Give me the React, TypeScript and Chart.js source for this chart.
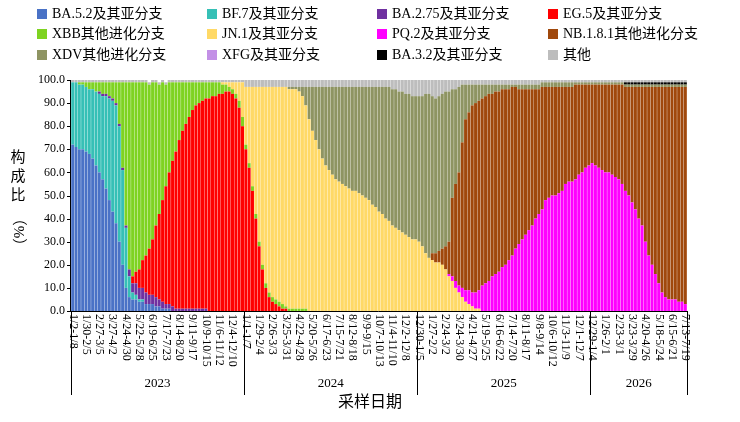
import React, { useEffect, useRef } from "react";
import { Chart, registerables } from "chart.js";
Chart.register(...registerables);

const N = 185;
const TICK_LABELS = [
  "1/2-1/8","1/30-2/5","2/27-3/5","3/27-4/2","4/24-4/30","5/22-5/28","6/19-6/25","7/17-7/23","8/14-8/20","9/11-9/17","10/9-10/15","11/6-11/12","12/4-12/10",
  "1/1-1/7","1/29-2/4","2/26-3/3","3/25-3/31","4/22-4/28","5/20-5/26","6/17-6/23","7/15-7/21","8/12-8/18","9/9-9/15","10/7-10/13","11/4-11/10","12/2-12/8",
  "12/30-1/5","1/27-2/2","2/24-3/2","3/24-3/30","4/21-4/27","5/19-5/25","6/16-6/22","7/14-7/20","8/11-8/17","9/8-9/14","10/6-10/12","11/3-11/9","12/1-12/7",
  "12/29-1/4","1/26-2/1","2/23-3/1","3/23-3/29","4/20-4/26","5/18-5/24","6/15-6/21","7/13-7/19",
];
const YEARS = ["2023", "2024", "2025", "2026"];
const YEAR_START = [0, 52, 104, 156];
const Y_TICKS = ["100.0","90.0","80.0","70.0","60.0","50.0","40.0","30.0","20.0","10.0","0.0"];

// place explicit values starting at a given week; other weeks are 0
function at(start: number, vals: number[]): number[] {
  const a = new Array(N).fill(0);
  vals.forEach((v, i) => (a[start + i] = v));
  return a;
}
const run = (k: number, v: number) => new Array(k).fill(v);

const BA52 = at(0, [72,71,70,70,69,68,66,63,60,57,53,48,43,38,30,20,10,6,5,5,4,4,3,3,3,2,2,1,1,1]);
const BF7 = at(0, [27,28,28,28,28,28,30,32,34,36,40,44,48,51,50,41,26,9,3,2,1,1]);
const BA275 = at(8, [1,1,1,1,1,1,1,1,1,3,4,5,5,5,5,4,4,4,3,3,2,2,2,1,1,1,1,1,1,1,1,1,1]);
const EG5 = at(18, [3,5,8,12,16,20,24,31,37,44,51,57,63,68,73,77,80,83,86,88,89,90,91,92,93,93,94,94,95,95,94,92,88,80,
  70,62,52,40,28,18,10,6,4,3,2,1,1]);
const XBB = at(2, [1,1,2,3,3,4,4,5,5,6,7,9,18,37,62,81,84,82,81,77,75,71,68,62,56,51,44,39,34,30,25,21,18,15,12,10,9,8,7,7,6,6,5,4,3,2,2,2,3,4,
  2,2,2,2,2,2,2,2,2,2,2,2,1,1,1,1,1,1,1]);
const JN1 = at(45, [1,1,2,3,5,8,15,
  25,33,43,55,67,77,85,89,91,92,93,94,95,95,95,95,94,92,88,83,78,74,70,66,63,61,59,57,56,55,54,53,52,52,51,50,49,48,46,45,43,42,40,39,37,36,35,34,33,32,31,31,
  30,28,25,23,22,21,21,20,18,15,13,10,8,6,4,3,2,1,1]);
const PQ2 = at(113, [1,2,3,3,4,5,6,6,7,8,11,12,13,15,16,17,19,20,22,24,27,29,31,33,35,37,40,42,44,48,49,50,50,51,52,55,56,56,57,59,60,62,63,64,63,62,61,60,60,59,58,57,55,52,50,47,44,40,37,30,24,20,16,12,8,6,5,5,5,4,4,3]);
const XDV = at(65, [1,1,1,2,4,8,14,19,23,27,31,34,36,38,40,41,42,43,44,45,45,46,47,48,49,51,52,54,55,57,58,59,60,60,61,61,62,62,62,
  63,65,69,71,68,67,67,67,67,65,47,41,37,25,15,12,9,8,7,6,5,4,4,3,3,2,2,2,1,1,
  ...run(17, 2), ...run(34, 1)]);
const NB181 = at(108, [3,4,5,7,10,14,34,42,49,63,74,77,81,82,82,81,81,81,79,79,78,77,76,74,73,70,
  67,65,63,61,59,56,54,
  53,49,48,47,47,46,45,42,41,41,
  41,39,38,36,35,34,35,36,37,38,38,39,40,41,43,
  45,47,50,53,57,60,67,73,77,81,85,89,91,92,92,92,93,93,94]);
const XFG = at(0, []);
const BA32 = at(166, run(19, 1));
const OTHER = at(0, [...run(52, 1), ...run(44, 3), 4,4,5,5,6,6,7,7,
  7,7,6,6,7,8,7,6,5,5,4,4,3, ...run(24, 2), ...run(44, 1)]);

const SERIES = [
  { name: "BA.5.2及其亚分支", color: "#4a72c6", data: BA52 },
  { name: "BF.7及其亚分支", color: "#36c0b6", data: BF7 },
  { name: "BA.2.75及其亚分支", color: "#7030a0", data: BA275 },
  { name: "EG.5及其亚分支", color: "#ff0000", data: EG5 },
  { name: "XBB其他进化分支", color: "#7ed321", data: XBB },
  { name: "JN.1及其亚分支", color: "#ffd966", data: JN1 },
  { name: "PQ.2及其亚分支", color: "#ff00ff", data: PQ2 },
  { name: "NB.1.8.1其他进化分支", color: "#a0480c", data: NB181 },
  { name: "XDV其他进化分支", color: "#8e9462", data: XDV },
  { name: "XFG及其亚分支", color: "#c390e6", data: XFG },
  { name: "BA.3.2及其亚分支", color: "#000000", data: BA32 },
  { name: "其他", color: "#bdbdbd", data: OTHER },
];

const FONT = '"Liberation Serif", "Noto Sans CJK SC", serif';

export default function App() {
  const ref = useRef<HTMLCanvasElement>(null);
  useEffect(() => {
    document.body.style.margin = "0";
    const labels = Array.from({ length: N }, (_, i) => (i % 4 === 0 ? TICK_LABELS[i / 4] : ""));
    const deco = {
      id: "deco",
      afterDraw(chart: any) {
        const ctx = chart.ctx;
        const xs = chart.scales.x, ys = chart.scales.y;
        const a = chart.chartArea;
        ctx.save();
        const colX = [37, 207, 377, 548];
        const rowY = [14, 34, 55];
        ctx.font = "14px " + FONT;
        ctx.textBaseline = "middle";
        ctx.textAlign = "left";
        SERIES.forEach((s, i) => {
          const cx = colX[i % 4], cy = rowY[Math.floor(i / 4)];
          ctx.fillStyle = s.color;
          ctx.fillRect(cx, cy - 5, 10, 10);
          ctx.fillStyle = "#000";
          ctx.fillText(s.name, cx + 15, cy);
        });
        ctx.strokeStyle = "#000";
        ctx.lineWidth = 1;
        ctx.beginPath();
        ctx.moveTo(a.left - 0.5, a.top);
        ctx.lineTo(a.left - 0.5, a.bottom + 0.5);
        ctx.lineTo(a.right, a.bottom + 0.5);
        ctx.stroke();
        ctx.font = "12px " + FONT;
        ctx.textAlign = "right";
        Y_TICKS.forEach((t) => {
          const y = ys.getPixelForValue(parseFloat(t));
          ctx.beginPath();
          ctx.moveTo(a.left - 4, Math.round(y) + 0.5);
          ctx.lineTo(a.left, Math.round(y) + 0.5);
          ctx.stroke();
          ctx.fillText(t, a.left - 6, y);
        });
        ctx.font = "15px " + FONT;
        ctx.textAlign = "center";
        ["构", "成", "比"].forEach((c, i) => ctx.fillText(c, 18, 158 + i * 19));
        ctx.save();
        ctx.translate(18, 232);
        ctx.rotate(Math.PI / 2);
        ctx.fillText("（%）", 0, 0);
        ctx.restore();
        ctx.font = "12px " + FONT;
        ctx.textAlign = "left";
        labels.forEach((l, i) => {
          if (!l) return;
          const x = xs.getPixelForValue(i);
          ctx.save();
          ctx.translate(x, a.bottom + 3);
          ctx.rotate(Math.PI / 2);
          ctx.fillText(l, 0, 0);
          ctx.restore();
        });
        const half = (xs.getPixelForValue(1) - xs.getPixelForValue(0)) / 2;
        const bounds = [...YEAR_START.map((s) => xs.getPixelForValue(s) - half), a.right];
        bounds.forEach((b) => {
          ctx.beginPath();
          ctx.moveTo(Math.round(b) + 0.5, a.bottom);
          ctx.lineTo(Math.round(b) + 0.5, 395);
          ctx.stroke();
        });
        ctx.font = "13px " + FONT;
        ctx.textAlign = "center";
        YEARS.forEach((y, i) => ctx.fillText(y, (bounds[i] + bounds[i + 1]) / 2, 384));
        ctx.font = "16px " + FONT;
        ctx.fillText("采样日期", 370, 403);
        ctx.restore();
      },
    };
    const chart = new Chart(ref.current!, {
      type: "bar",
      data: {
        labels,
        datasets: SERIES.map((s) => ({
          label: s.name,
          data: s.data,
          backgroundColor: s.color,
          borderWidth: 0,
          barPercentage: 0.9,
          categoryPercentage: 1,
        })),
      },
      options: {
        animation: false,
        responsive: false,
        layout: { padding: { left: 71, right: 53, top: 80, bottom: 111 } },
        plugins: { legend: { display: false }, tooltip: { enabled: false } },
        scales: {
          x: { stacked: true, display: false },
          y: { stacked: true, display: false, min: 0, max: 100 },
        },
      },
      plugins: [deco],
    });
    return () => chart.destroy();
  }, []);
  return <canvas ref={ref} width={740} height={422} style={{ display: "block" }} />;
}
